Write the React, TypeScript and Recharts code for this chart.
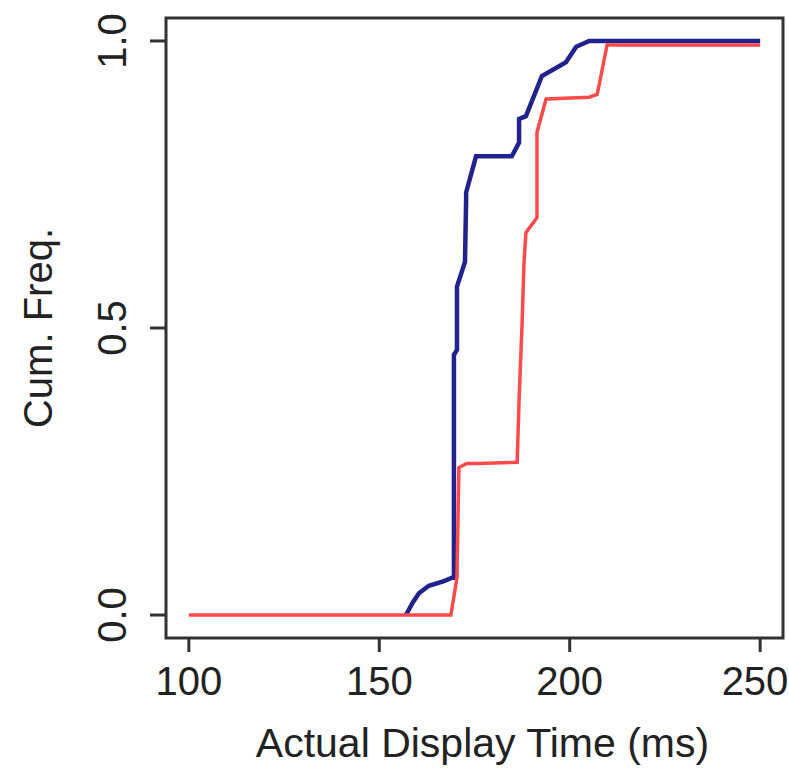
import { LineChart, Line, XAxis, YAxis, ReferenceArea } from "recharts";

const xTicks = [100, 150, 200, 250];
const yTicks = [0, 0.5, 1];

// blue ECDF
const blueTime = [157.0, 158.8, 160.4, 163.0, 167.0, 169.1, 169.6, 169.6, 170.4, 170.4, 172.5, 172.8, 172.8, 175.4, 184.8, 186.7, 186.7, 188.5, 192.7, 199.0, 201.7, 205.1, 250];
const blueFreq = [0, 0.022, 0.038, 0.051, 0.059, 0.065, 0.065, 0.453, 0.462, 0.572, 0.615, 0.724, 0.736, 0.799, 0.799, 0.823, 0.864, 0.869, 0.939, 0.963, 0.99, 1.0, 1.0];

// red ECDF
const redTime = [100, 168.8, 170.4, 170.9, 173.0, 176.2, 186.2, 186.7, 187.5, 188.0, 188.5, 191.4, 191.4, 193.8, 205.1, 207.2, 208.2, 209.8, 250];
const redFreq = [0, 0, 0.065, 0.257, 0.264, 0.264, 0.266, 0.374, 0.509, 0.614, 0.666, 0.692, 0.841, 0.899, 0.902, 0.907, 0.939, 0.993, 0.993];

const blueData = blueTime.map((x, i) => ({ x, y: blueFreq[i] }));
const redData = redTime.map((x, i) => ({ x, y: redFreq[i] }));

const font = "'Liberation Sans', Arial, sans-serif";
const ink = "#222";
const W = 789;

const XTick = (props: any) => {
  const { x, y, payload } = props;
  // keep the last label inside the page edge
  const cx = Math.min(x, W - 34);
  return (
    <text x={cx} y={y} dy={41} textAnchor="middle" fill={ink} fontSize={40} fontFamily={font}>
      {payload.value}
    </text>
  );
};

const YTick = (props: any) => {
  const { x, y, payload } = props;
  const bx = x - 22;
  return (
    <text x={bx} y={y} textAnchor="middle" fill={ink} fontSize={40} fontFamily={font} transform={`rotate(-90, ${bx}, ${y})`}>
      {Number(payload.value).toFixed(1)}
    </text>
  );
};

export default function App() {
  return (
    <div style={{ position: "absolute", left: 0, top: 0, width: W, height: 776, background: "#fff" }}>
      <LineChart width={W} height={776} margin={{ top: 18, right: 6, bottom: 0, left: 0 }}>
        <XAxis
          type="number"
          dataKey="x"
          domain={[94, 256]}
          ticks={xTicks}
          allowDataOverflow
          height={138}
          axisLine={false}
          tickSize={14}
          tickLine={{ stroke: "#333", strokeWidth: 3 }}
          tick={<XTick />}
          label={{ value: "Actual Display Time (ms)", position: "insideBottom", offset: 19, dx: 8, fill: ink, fontSize: 41, fontFamily: font }}
        />
        <YAxis
          type="number"
          domain={[-0.04, 1.04]}
          ticks={yTicks}
          allowDataOverflow
          width={166}
          axisLine={false}
          tickSize={16}
          tickLine={{ stroke: "#333", strokeWidth: 3 }}
          tick={<YTick />}
          label={{ value: "Cum. Freq.", position: "insideLeft", angle: -90, offset: 38, fill: ink, fontSize: 40, fontFamily: font, style: { textAnchor: "middle" } }}
        />
        <ReferenceArea x1={94} x2={256} y1={-0.04} y2={1.04} fill="none" stroke="#333" strokeWidth={3} />
        <Line data={blueData} dataKey="y" type="linear" stroke="#22228e" strokeWidth={4.5} dot={false} isAnimationActive={false} />
        <Line data={redData} dataKey="y" type="linear" stroke="#ff4a4a" strokeWidth={3.5} dot={false} isAnimationActive={false} />
      </LineChart>
    </div>
  );
}
